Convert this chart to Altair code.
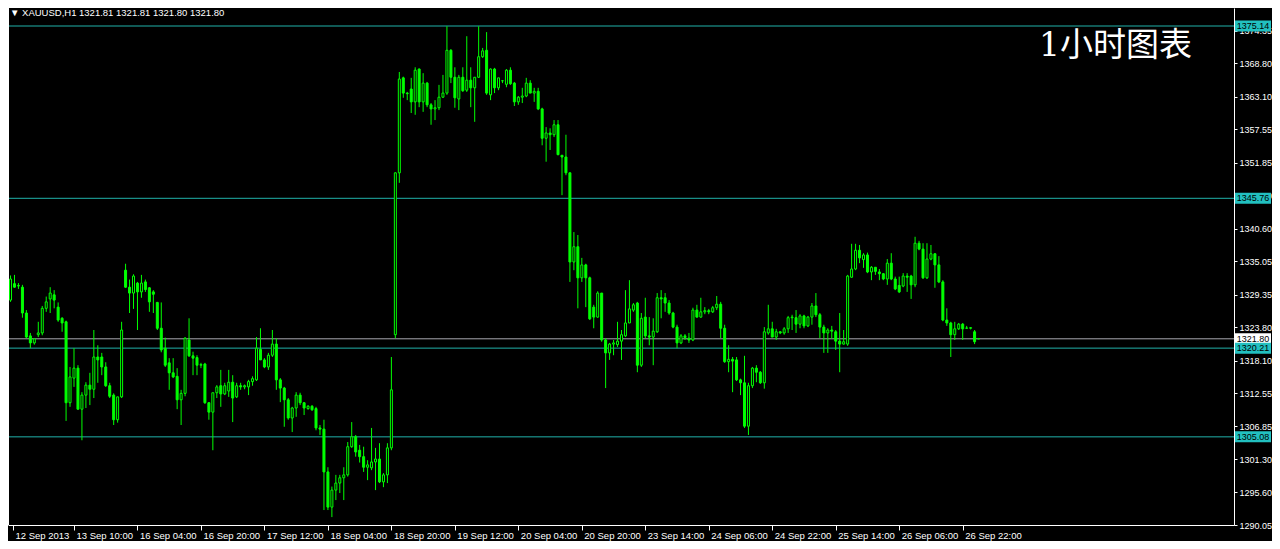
import altair as alt
import pandas as pd

# ---- data (XAUUSD H1 candles) ----
opens = [1328.4, 1331.2, 1330.8, 1330.6, 1326.2, 1322.3, 1321.1, 1322.5, 1322.8, 1327.0,
         1328.6, 1329.3, 1327.2, 1325.3, 1324.7, 1310.9, 1315.1, 1316.8, 1309.8, 1312.2,
         1313.9, 1313.2, 1318.7, 1318.7, 1317.0, 1313.8, 1312.2, 1308.0, 1311.9, 1333.5,
         1330.6, 1329.6, 1331.3, 1329.8, 1331.5, 1330.5, 1329.8, 1328.0, 1323.6, 1320.2,
         1317.7, 1316.0, 1315.4, 1311.4, 1312.5, 1321.6, 1318.9, 1318.6, 1317.3, 1317.5,
         1310.9, 1309.3, 1312.6, 1313.8, 1312.4, 1312.9, 1314.4, 1311.9, 1313.8, 1313.6,
         1313.6, 1314.5, 1314.8, 1320.0, 1318.2, 1317.0, 1319.0, 1320.9, 1314.8, 1313.4,
         1311.4, 1308.3, 1310.0, 1312.2, 1310.9, 1309.9, 1310.3, 1309.9, 1306.6, 1306.4,
         1299.1, 1293.1, 1296.0, 1297.2, 1298.1, 1298.6, 1303.4, 1305.1, 1302.8, 1301.7,
         1299.9, 1299.8, 1300.8, 1301.3, 1297.4, 1298.6, 1303.2, 1322.5, 1350.1, 1366.3,
         1363.7, 1364.4, 1362.2, 1367.8, 1362.2, 1365.4, 1361.7, 1361.0, 1361.2, 1363.0,
         1363.7, 1371.0, 1366.4, 1362.7, 1366.4, 1364.2, 1365.9, 1364.6, 1366.4, 1369.9,
         1371.0, 1363.4, 1367.8, 1364.6, 1365.8, 1365.2, 1367.6, 1365.4, 1362.2, 1363.0,
         1363.2, 1365.4, 1363.7, 1364.0, 1361.0, 1356.0, 1356.9, 1356.6, 1358.3, 1353.1,
         1352.8, 1350.1, 1334.9, 1337.5, 1332.2, 1334.4, 1332.2, 1327.2, 1325.5, 1329.6,
         1321.6, 1319.4, 1320.9, 1320.8, 1321.4, 1322.3, 1324.5, 1326.7, 1327.9, 1317.3,
         1325.5, 1322.3, 1322.1, 1323.0, 1328.8, 1328.8, 1327.9, 1326.2, 1323.8, 1321.1,
         1322.3, 1321.9, 1321.6, 1326.7, 1325.5, 1326.4, 1326.6, 1326.4, 1327.1, 1327.7,
         1323.6, 1317.9, 1318.3, 1318.2, 1314.8, 1314.3, 1306.9, 1313.8, 1316.8, 1316.1,
         1314.3, 1322.8, 1323.5, 1322.1, 1323.0, 1322.8, 1323.5, 1325.4, 1325.4, 1324.3,
         1325.7, 1324.0, 1325.5, 1327.4, 1325.9, 1323.8, 1322.8, 1323.3, 1323.0, 1321.4,
         1320.9, 1320.9, 1332.3, 1333.7, 1336.9, 1335.3, 1336.1, 1333.2, 1334.0, 1333.2,
         1332.9, 1332.0, 1334.7, 1332.0, 1330.9, 1330.8, 1332.5, 1332.5, 1331.0, 1338.1,
         1337.1, 1332.2, 1335.4, 1336.3, 1334.4, 1331.5, 1325.0, 1324.5, 1322.5, 1323.5,
         1324.3, 1323.6, 1323.6, 1323.0, 1321.81]
highs = [1332.6, 1332.7, 1331.3, 1331.0, 1326.7, 1322.8, 1321.9, 1324.7, 1327.4, 1329.0,
         1330.6, 1330.1, 1328.0, 1325.5, 1324.9, 1317.0, 1320.2, 1317.3, 1312.7, 1314.4,
         1316.0, 1323.3, 1320.7, 1319.4, 1317.8, 1314.3, 1312.5, 1311.9, 1324.7, 1334.6,
         1331.9, 1332.8, 1331.5, 1332.7, 1331.9, 1330.6, 1330.1, 1328.1, 1328.0, 1322.0,
         1318.5, 1318.5, 1316.8, 1313.1, 1322.1, 1325.3, 1319.6, 1319.0, 1317.7, 1317.7,
         1311.0, 1312.6, 1313.9, 1316.5, 1314.3, 1316.5, 1315.6, 1314.3, 1314.3, 1314.0,
         1314.8, 1315.4, 1322.1, 1323.6, 1318.5, 1319.4, 1323.3, 1321.9, 1315.1, 1313.6,
         1311.7, 1310.2, 1312.7, 1312.6, 1311.0, 1310.5, 1310.5, 1310.2, 1307.1, 1308.0,
         1299.9, 1296.6, 1298.6, 1298.6, 1299.9, 1304.2, 1307.6, 1305.4, 1303.7, 1303.4,
         1301.1, 1306.6, 1303.2, 1304.0, 1298.9, 1304.0, 1318.7, 1350.2, 1367.3, 1366.5,
         1363.9, 1366.3, 1368.1, 1367.9, 1367.1, 1365.6, 1362.0, 1362.5, 1365.1, 1366.8,
         1375.1, 1371.2, 1368.1, 1366.8, 1368.1, 1373.4, 1368.1, 1366.4, 1375.1, 1371.4,
         1374.1, 1367.9, 1368.0, 1366.3, 1365.9, 1367.8, 1368.1, 1365.6, 1363.2, 1364.6,
         1366.3, 1365.9, 1364.6, 1364.6, 1361.2, 1357.9, 1357.7, 1359.1, 1359.1, 1353.1,
         1356.6, 1350.2, 1340.0, 1339.5, 1335.6, 1334.6, 1332.4, 1327.6, 1329.9, 1329.6,
         1321.9, 1321.1, 1321.6, 1324.7, 1323.3, 1330.1, 1331.8, 1327.9, 1328.1, 1326.2,
         1328.8, 1325.5, 1325.3, 1329.6, 1330.1, 1329.6, 1328.4, 1326.4, 1324.2, 1322.6,
         1322.6, 1322.8, 1327.1, 1327.6, 1328.8, 1327.2, 1326.9, 1327.4, 1329.1, 1328.1,
         1324.2, 1320.7, 1318.7, 1318.7, 1315.0, 1318.9, 1314.3, 1317.0, 1317.3, 1316.3,
         1323.8, 1327.6, 1324.7, 1323.5, 1323.1, 1323.8, 1325.7, 1325.9, 1326.7, 1326.0,
         1325.9, 1325.7, 1327.9, 1329.6, 1326.2, 1324.2, 1323.6, 1324.0, 1323.3, 1326.2,
         1323.3, 1332.7, 1338.0, 1338.0, 1337.8, 1336.4, 1336.5, 1334.2, 1334.0, 1333.7,
         1333.0, 1335.4, 1336.4, 1332.4, 1332.4, 1333.0, 1333.0, 1332.7, 1339.2, 1338.5,
         1338.1, 1338.1, 1337.8, 1336.4, 1335.9, 1331.8, 1327.0, 1324.7, 1324.7, 1324.5,
         1324.5, 1324.0, 1323.8, 1323.3, 1321.81]
lows = [1328.1, 1330.5, 1330.3, 1325.4, 1321.9, 1320.2, 1320.8, 1322.1, 1322.4, 1326.4,
        1326.2, 1327.0, 1324.7, 1323.0, 1307.8, 1310.2, 1313.6, 1309.7, 1304.5, 1310.0,
        1310.5, 1311.7, 1314.3, 1315.6, 1313.6, 1311.7, 1307.1, 1307.5, 1311.7, 1330.5,
        1326.2, 1326.9, 1323.3, 1328.8, 1329.8, 1326.4, 1326.2, 1323.3, 1319.5, 1317.0,
        1313.1, 1315.1, 1309.8, 1307.1, 1312.0, 1318.7, 1315.6, 1315.6, 1316.8, 1310.7,
        1308.0, 1302.8, 1311.7, 1310.2, 1312.2, 1311.9, 1307.6, 1311.7, 1313.1, 1313.2,
        1312.2, 1313.8, 1314.6, 1318.2, 1316.8, 1316.5, 1318.7, 1313.1, 1311.0, 1306.8,
        1308.0, 1305.9, 1308.5, 1310.5, 1308.8, 1309.7, 1309.5, 1306.2, 1305.4, 1292.6,
        1292.6, 1291.4, 1294.3, 1295.5, 1294.3, 1298.3, 1303.2, 1301.7, 1300.7, 1299.1,
        1297.7, 1299.4, 1296.0, 1297.2, 1296.5, 1297.2, 1302.8, 1321.9, 1348.4, 1362.9,
        1362.5, 1360.3, 1360.0, 1361.3, 1360.5, 1361.3, 1358.3, 1359.1, 1360.8, 1362.9,
        1363.4, 1365.4, 1361.2, 1360.8, 1363.9, 1363.9, 1361.3, 1358.8, 1366.3, 1369.7,
        1363.4, 1362.5, 1363.7, 1364.2, 1365.4, 1364.7, 1365.1, 1361.5, 1361.7, 1362.0,
        1363.0, 1363.7, 1362.2, 1360.8, 1354.8, 1352.0, 1354.0, 1356.2, 1353.1, 1346.3,
        1349.7, 1331.5, 1333.5, 1327.0, 1331.5, 1327.2, 1325.0, 1323.6, 1325.4, 1321.3,
        1313.4, 1318.2, 1319.0, 1320.4, 1318.2, 1322.1, 1324.5, 1326.4, 1316.1, 1317.0,
        1321.9, 1320.7, 1317.3, 1322.8, 1325.3, 1326.4, 1325.9, 1323.6, 1320.2, 1320.9,
        1321.6, 1321.1, 1321.4, 1325.4, 1325.4, 1326.0, 1326.0, 1326.2, 1326.7, 1321.9,
        1317.7, 1316.1, 1312.7, 1314.6, 1312.2, 1306.6, 1305.4, 1313.4, 1314.4, 1314.1,
        1313.3, 1322.5, 1322.1, 1321.6, 1322.6, 1322.5, 1322.8, 1323.3, 1322.8, 1323.6,
        1323.6, 1323.8, 1324.2, 1325.5, 1321.9, 1319.4, 1319.4, 1321.8, 1319.9, 1316.1,
        1320.8, 1320.6, 1332.2, 1333.5, 1334.7, 1333.9, 1333.0, 1331.8, 1332.7, 1331.8,
        1331.8, 1331.0, 1331.8, 1330.1, 1329.6, 1330.6, 1329.8, 1328.6, 1330.6, 1336.9,
        1332.0, 1332.0, 1335.2, 1330.5, 1331.3, 1324.8, 1324.0, 1318.7, 1321.6, 1323.3,
        1321.6, 1323.5, 1323.4, 1320.9, 1321.80]
closes = [1332.0, 1330.6, 1330.9, 1326.2, 1322.1, 1321.1, 1321.8, 1322.8, 1327.0, 1328.1,
          1329.6, 1328.4, 1325.0, 1324.5, 1310.9, 1315.3, 1316.8, 1309.8, 1312.2, 1313.9,
          1313.2, 1318.7, 1318.2, 1317.0, 1313.8, 1312.0, 1308.0, 1311.9, 1323.3, 1330.6,
          1329.6, 1332.5, 1329.8, 1331.3, 1330.2, 1328.1, 1329.4, 1323.6, 1319.9, 1317.3,
          1316.0, 1315.3, 1311.4, 1312.5, 1321.9, 1318.9, 1318.5, 1317.3, 1317.4, 1310.9,
          1309.3, 1312.6, 1313.6, 1312.4, 1313.8, 1314.4, 1311.7, 1313.8, 1313.6, 1313.8,
          1314.5, 1315.0, 1320.2, 1318.2, 1317.0, 1319.0, 1320.9, 1314.8, 1313.4, 1311.4,
          1308.3, 1310.0, 1312.2, 1310.9, 1310.0, 1310.3, 1309.7, 1306.6, 1306.4, 1299.1,
          1293.1, 1296.0, 1297.2, 1298.1, 1298.6, 1303.4, 1305.1, 1302.5, 1301.7, 1299.9,
          1300.3, 1300.8, 1301.3, 1297.4, 1298.6, 1303.2, 1313.1, 1350.1, 1366.1, 1363.7,
          1363.6, 1362.2, 1367.6, 1362.2, 1365.4, 1361.7, 1361.0, 1361.2, 1363.0, 1363.7,
          1371.0, 1366.4, 1362.9, 1366.4, 1364.1, 1365.9, 1364.6, 1366.4, 1369.9, 1370.9,
          1363.7, 1367.8, 1364.6, 1366.3, 1365.8, 1367.6, 1365.3, 1362.2, 1363.0, 1363.2,
          1365.4, 1363.7, 1364.0, 1361.0, 1356.0, 1356.9, 1356.6, 1358.3, 1353.2, 1352.8,
          1350.1, 1334.9, 1337.5, 1332.2, 1334.4, 1332.2, 1325.2, 1325.5, 1329.6, 1321.6,
          1319.4, 1320.9, 1321.1, 1321.4, 1322.5, 1324.5, 1326.9, 1327.6, 1317.3, 1325.3,
          1322.3, 1322.1, 1323.1, 1328.8, 1328.6, 1327.9, 1326.2, 1323.8, 1321.1, 1322.3,
          1322.0, 1321.6, 1326.7, 1325.5, 1326.4, 1326.6, 1326.4, 1327.1, 1327.7, 1323.6,
          1317.9, 1318.3, 1318.0, 1314.8, 1314.3, 1306.9, 1313.8, 1316.8, 1316.1, 1314.3,
          1323.0, 1323.5, 1322.1, 1323.0, 1322.8, 1323.5, 1325.4, 1325.5, 1324.3, 1325.7,
          1324.0, 1325.5, 1327.4, 1325.9, 1323.8, 1322.8, 1323.3, 1323.1, 1321.4, 1320.9,
          1321.3, 1332.5, 1333.7, 1336.9, 1335.6, 1336.1, 1333.2, 1334.0, 1333.3, 1332.9,
          1332.0, 1334.7, 1332.0, 1330.3, 1329.8, 1332.5, 1332.3, 1331.0, 1338.1, 1337.1,
          1332.2, 1335.4, 1336.3, 1334.4, 1331.5, 1325.0, 1324.5, 1322.5, 1323.5, 1324.3,
          1323.5, 1323.65, 1323.7, 1321.3, 1321.80]

x_tick_values = [0.625, 16, 32, 48, 64, 80, 96, 112, 128, 144, 160, 176, 192, 208, 224, 240]
x_tick_labels = ["12 Sep 2013", "13 Sep 10:00", "16 Sep 04:00", "16 Sep 20:00", "17 Sep 12:00",
                 "18 Sep 04:00", "18 Sep 20:00", "19 Sep 12:00", "20 Sep 04:00", "20 Sep 20:00",
                 "23 Sep 14:00", "24 Sep 06:00", "24 Sep 22:00", "25 Sep 14:00", "26 Sep 06:00",
                 "26 Sep 22:00"]
y_tick_values = [1290.05, 1295.60, 1301.30, 1306.85, 1312.55, 1318.10, 1323.80, 1329.35,
                 1335.05, 1340.60, 1346.30, 1351.85, 1357.55, 1363.10, 1368.80, 1374.35]
level_prices = [1375.14, 1345.76, 1320.21, 1305.08]
bid_price = [1321.80]
title_text = "▼ XAUUSD,H1  1321.81 1321.81 1321.80 1321.80"
big_label = "1小时图表"

# ---- styling ----
GREEN = "#00FF00"
CYAN = "#20B2AA"
CYAN_BOX = "#22C0C0"
GREY = "#A8A8B0"
FONT = "Liberation Sans"
W, H = 1226, 517

df = pd.DataFrame({"i": list(range(len(opens))), "open": opens, "high": highs,
                   "low": lows, "close": closes})
lv = pd.DataFrame({"price": level_prices})
bid = pd.DataFrame({"price": bid_price})
one = pd.DataFrame({"k": [0]})

xs = alt.Scale(domain=[0.625, 307.125], nice=False, zero=False)
ys = alt.Scale(domain=[1290.05, 1378.21], nice=False, zero=False)

label_array = "[" + ",".join("'" + s + "'" for s in x_tick_labels) + "]"

x_axis = alt.Axis(values=x_tick_values, labelExpr=label_array + "[round(datum.value/16)]",
                  labelAlign="left", labelBaseline="top", labelOffset=2, labelPadding=0,
                  tickSize=5, tickColor="white", domainColor="white", labelColor="white",
                  labelFont=FONT, labelFontSize=9.5, labelFlush=False, labelOverlap=False,
                  grid=False, title=None)
y_axis = alt.Axis(orient="right", values=y_tick_values, format=".2f", tickSize=3,
                  tickColor="white", domainColor="white", labelColor="white",
                  labelFont=FONT, labelFontSize=9, labelPadding=2, labelFlush=False,
                  labelOverlap=False, grid=False, title=None)

# axis layer first so its axes win the merge
axis_layer = alt.Chart(df).mark_rule(opacity=0).encode(
    x=alt.X("i:Q", scale=xs, axis=x_axis),
    y=alt.Y("low:Q", scale=ys, axis=y_axis),
)

base = alt.Chart(df)
wicks = base.mark_rule(color=GREEN, strokeWidth=1).encode(
    x=alt.X("i:Q", scale=xs, axis=x_axis),
    y=alt.Y("low:Q", scale=ys, axis=y_axis),
    y2="high:Q",
)
bodies = base.mark_bar(size=2, stroke=GREEN, strokeWidth=1).encode(
    x=alt.X("i:Q", scale=xs, axis=x_axis),
    y=alt.Y("open:Q", scale=ys, axis=y_axis),
    y2="close:Q",
    fill=alt.condition("datum.close > datum.open", alt.value("#000000"), alt.value(GREEN)),
)

lines = alt.Chart(lv).mark_rule(color=CYAN, strokeWidth=1).encode(
    y=alt.Y("price:Q", scale=ys, axis=y_axis))
bid_line = alt.Chart(bid).mark_rule(color=GREY, strokeWidth=1).encode(
    y=alt.Y("price:Q", scale=ys, axis=y_axis))

box_shape = "M-1,-0.3056L1,-0.3056L1,0.3056L-1,0.3056Z"
lv_boxes = alt.Chart(lv).mark_point(shape=box_shape, filled=True, fill=CYAN_BOX, opacity=1,
                                    size=1296, strokeWidth=0, clip=False).encode(
    x=alt.value(W + 19), y=alt.Y("price:Q", scale=ys, axis=y_axis))
lv_text = alt.Chart(lv).mark_text(color="black", font=FONT, fontSize=9, align="center",
                                  baseline="middle", clip=False).encode(
    x=alt.value(W + 19), y=alt.Y("price:Q", scale=ys, axis=y_axis),
    text=alt.Text("price:Q", format=".2f"))
bid_box = alt.Chart(bid).mark_point(shape=box_shape, filled=True, fill="white", opacity=1,
                                    size=1296, strokeWidth=0, clip=False).encode(
    x=alt.value(W + 19), y=alt.Y("price:Q", scale=ys, axis=y_axis))
bid_text = alt.Chart(bid).mark_text(color="black", font=FONT, fontSize=9, align="center",
                                    baseline="middle", clip=False).encode(
    x=alt.value(W + 19), y=alt.Y("price:Q", scale=ys, axis=y_axis),
    text=alt.Text("price:Q", format=".2f"))

frame_left = alt.Chart(one).mark_rule(color="white", strokeWidth=1).encode(
    x=alt.value(0.5), y=alt.value(0), y2=alt.value(H))

title = alt.Chart(one).mark_text(color="white", font=FONT, fontSize=9.5, align="left",
                                 baseline="top").encode(
    x=alt.value(2), y=alt.value(0), text=alt.value(title_text))
big = alt.Chart(one).mark_text(color="white", font="DejaVu Serif, Noto Sans CJK SC",
                               fontSize=33, align="left", baseline="top").encode(
    x=alt.value(1031), y=alt.value(22), text=alt.value(big_label))

chart = alt.layer(
    axis_layer, lines, bid_line, wicks, bodies, frame_left,
    bid_box, lv_boxes, bid_text, lv_text, title, big,
).properties(
    width=W, height=H,
    padding={"left": 0, "top": 0, "right": 38, "bottom": 16},
    autosize=alt.AutoSizeParams(type="none"),
).configure(background="black").configure_view(stroke=None)

chart.save("out.html", embed_options={"renderer": "svg", "actions": False})
